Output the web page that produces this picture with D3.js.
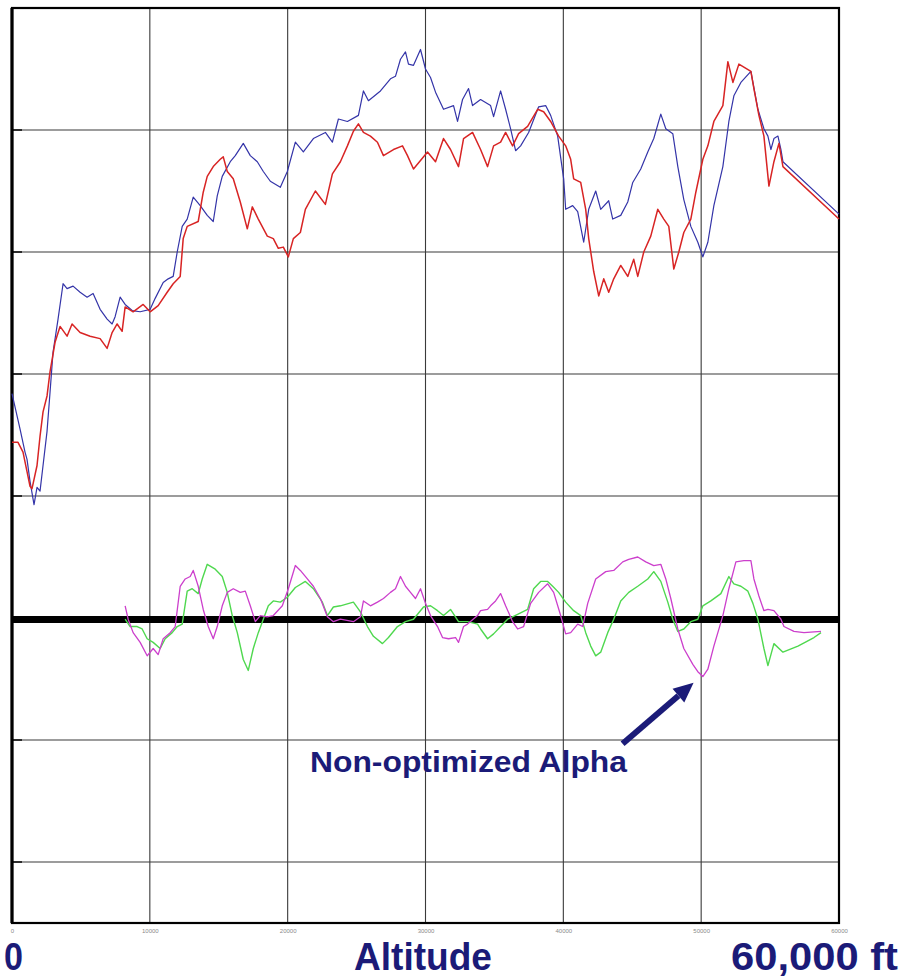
<!DOCTYPE html>
<html><head><meta charset="utf-8">
<script src="https://cdn.jsdelivr.net/npm/d3@7"></script>
<style>html,body{margin:0;padding:0;background:#fff;}svg{display:block;}</style>
</head><body><svg id="c" width="902" height="979"></svg>
<script>
// ---- data (altitude in ft, values in grid units) ----
const xTicks = [0, 10000, 20000, 30000, 40000, 50000, 60000];
const yGrid = [-2, -1, 1, 2, 3, 4];

const blueAlt = [0,581,944,1090,1308,1598,1816,2034,2252,2542,2760,2978,3341,3705,3995,4431,4940,5448,5884,6392,6901,7264,7482,7845,8208,8717,9298,10024,10388,10969,11332,11695,11986,12349,12712,13148,13656,14165,14601,14891,15254,15836,16199,16780,17288,17797,18233,18741,19468,19976,20557,21138,21865,22736,23245,23681,24334,25133,25497,25860,26732,27458,27821,28184,28548,28765,29129,29637,30000,30364,30727,31308,32034,32325,32688,33124,33414,33996,34722,34940,35448,35812,36175,36538,36901,37482,38209,38717,39080,39589,40025,40170,40678,41042,41477,41841,42349,42712,43293,43584,44165,44674,45037,45618,46126,46562,47071,47434,47942,48306,48741,49250,49758,50122,50485,50921,51574,52010,52373,52882,53608,53754,54117,54553,54843,55061,55279,55570,55788,55933,60000];
const blueVal = [1.84,1.55,1.36,1.30,1.12,0.93,1.07,1.04,1.25,1.53,1.85,2.18,2.45,2.74,2.70,2.72,2.67,2.63,2.66,2.53,2.45,2.41,2.47,2.63,2.57,2.52,2.51,2.53,2.62,2.75,2.78,2.80,3.00,3.21,3.27,3.45,3.38,3.30,3.25,3.46,3.62,3.74,3.79,3.89,3.79,3.74,3.66,3.58,3.53,3.66,3.90,3.82,3.93,3.98,3.90,4.09,4.07,4.12,4.32,4.24,4.32,4.42,4.44,4.58,4.64,4.54,4.53,4.66,4.50,4.43,4.31,4.17,4.20,4.07,4.25,4.34,4.20,4.25,4.20,4.11,4.32,4.17,4.01,3.83,3.87,3.98,4.19,4.20,4.12,3.95,3.60,3.35,3.38,3.33,3.08,3.35,3.50,3.35,3.42,3.27,3.30,3.41,3.57,3.68,3.82,3.93,4.13,4.01,3.97,3.70,3.43,3.21,3.08,2.96,3.08,3.38,3.70,4.07,4.28,4.39,4.48,4.39,4.17,4.01,3.95,3.84,3.93,3.95,3.84,3.74,3.31];

const redAlt = [0,436,799,1090,1308,1453,1816,2034,2252,2542,2760,3124,3487,3995,4358,4940,5666,6392,6901,7264,7627,7990,8208,8789,9516,10024,10605,11259,11695,12204,12421,12712,13511,13874,14165,14601,15109,15327,15618,16053,16562,17070,17434,17869,18523,18959,19322,19685,20048,20412,20920,21284,22010,22736,23245,23826,24334,24770,25133,25497,26005,26514,26949,27676,28330,28693,29129,29637,30146,30727,31308,31816,32397,32761,33414,33996,34504,34940,35448,35812,36320,36756,37410,38136,38572,39080,39661,40170,40533,40751,41260,41623,41841,42204,42567,42930,43293,43656,44165,44674,45109,45400,45836,46344,46853,47289,47652,48015,48378,48741,49250,49613,50122,50485,50921,51574,51938,52301,52737,53608,53826,54189,54553,54916,55279,55642,55933,60000];
const redVal = [1.44,1.44,1.36,1.20,1.08,1.06,1.25,1.49,1.69,1.82,2.02,2.26,2.39,2.31,2.41,2.34,2.31,2.29,2.21,2.34,2.41,2.35,2.55,2.51,2.57,2.51,2.56,2.67,2.74,2.80,3.11,3.21,3.25,3.49,3.62,3.70,3.76,3.78,3.66,3.60,3.41,3.19,3.37,3.27,3.13,3.11,3.03,3.04,2.96,3.11,3.16,3.35,3.50,3.39,3.64,3.74,3.87,3.99,4.05,3.98,3.95,3.90,3.79,3.84,3.87,3.79,3.68,3.75,3.82,3.74,3.93,3.84,3.70,3.93,3.98,3.84,3.70,3.87,3.90,3.98,3.87,3.97,4.03,4.17,4.15,4.07,3.95,3.87,3.76,3.60,3.57,3.35,3.11,2.84,2.64,2.78,2.67,2.78,2.89,2.80,2.94,2.80,3.00,3.13,3.35,3.27,3.21,2.86,3.00,3.16,3.27,3.49,3.76,3.87,4.07,4.20,4.56,4.39,4.54,4.48,4.34,4.12,3.95,3.54,3.74,3.89,3.70,3.27];

const magAlt = [8208,8426,8789,9298,9806,10242,10605,10969,11477,11840,12204,12567,12930,13148,13511,13874,14237,14601,14891,15254,15618,16053,16562,16925,17288,17652,18015,18523,18959,19613,20048,20557,20920,21429,21865,22373,22882,23317,23826,24770,25279,25497,26005,26514,26949,27458,27821,28184,28548,28911,29274,29637,30000,30364,30872,31235,31671,32180,32397,32761,33051,33778,33996,34504,34722,35085,35448,35812,36320,36683,37119,37628,38209,38862,39298,39807,40170,40533,41042,41405,41768,42349,43076,43656,44310,44746,45400,45981,46562,47071,47434,47797,48306,48741,49395,49758,50122,50485,50921,51574,52010,52519,53099,53608,53826,54189,54553,54843,55279,55788,56005,56731,57458,58693];
const magVal = [0.10,-0.01,-0.12,-0.20,-0.31,-0.25,-0.30,-0.17,-0.12,-0.07,0.26,0.32,0.34,0.39,0.26,0.07,-0.07,-0.17,-0.07,0.10,0.21,0.24,0.21,0.22,0.10,-0.03,0.02,0.01,0.02,0.10,0.24,0.43,0.39,0.32,0.26,0.16,0.01,-0.03,-0.01,-0.03,0.01,0.14,0.10,0.13,0.16,0.21,0.24,0.34,0.26,0.21,0.16,0.24,0.12,0.02,-0.07,-0.16,-0.17,-0.16,-0.20,-0.07,-0.05,0.02,0.06,0.07,0.10,0.14,0.20,0.10,-0.03,-0.09,-0.07,0.12,0.21,0.28,0.21,0.02,-0.13,-0.12,-0.05,-0.07,0.12,0.32,0.38,0.39,0.46,0.48,0.50,0.46,0.43,0.44,0.32,0.16,-0.09,-0.25,-0.38,-0.44,-0.48,-0.42,-0.23,0.02,0.24,0.46,0.47,0.47,0.32,0.18,0.06,0.07,0.06,-0.01,-0.07,-0.11,-0.12,-0.11];

const greenAlt = [8208,8571,9080,9443,9806,10242,10751,11114,11622,11986,12349,12712,13075,13511,13802,14165,14746,15254,15618,15981,16344,16780,17143,17506,17869,18233,18596,18959,19468,19976,20557,21284,21865,22518,22882,23317,23826,24770,25279,25787,26223,26877,27313,27966,28548,29129,29855,30364,30872,31308,31816,32397,33051,33778,33996,34504,34940,35448,35957,36683,37410,37846,38354,38862,39226,39661,40170,40751,41260,41623,41986,42349,42712,43221,43656,44165,44746,45400,46126,46562,47071,47579,47942,48306,48741,49250,49758,50122,50703,51429,52010,52373,52882,53390,53754,54117,54553,54843,55279,55933,57022,58185,58693];
const greenVal = [-0.01,-0.07,-0.07,-0.09,-0.17,-0.20,-0.25,-0.17,-0.12,-0.07,-0.05,0.22,0.24,0.20,0.32,0.44,0.40,0.34,0.21,0.02,-0.12,-0.34,-0.43,-0.25,-0.12,-0.01,0.10,0.14,0.13,0.17,0.25,0.30,0.24,0.13,0.02,0.09,0.10,0.13,0.05,-0.07,-0.15,-0.21,-0.16,-0.07,-0.03,-0.01,0.09,0.10,0.06,0.02,0.07,-0.03,-0.03,-0.05,-0.09,-0.17,-0.13,-0.07,-0.01,0.03,0.07,0.24,0.30,0.30,0.26,0.21,0.13,0.06,0.02,-0.12,-0.23,-0.31,-0.28,-0.12,-0.01,0.14,0.21,0.26,0.32,0.38,0.30,0.13,-0.01,-0.11,-0.09,-0.03,-0.01,0.10,0.14,0.20,0.34,0.28,0.26,0.22,0.12,-0.01,-0.25,-0.39,-0.21,-0.28,-0.23,-0.16,-0.12];

const labelLeft = "0", labelMid = "Altitude", labelRight = "60,000 ft";
const annotation = "Non-optimized Alpha";

// ---- drawing ----
const svg = d3.select("#c");
const x = d3.scaleLinear().domain([0, 60000]).range([12, 839]);
const y = d3.scaleLinear().domain([-2.5, 5]).range([923, 8]);
const navy = "#1b1b78";

// grid
svg.append("g").selectAll("line").data(xTicks.slice(1, -1)).join("line")
  .attr("x1", d => x(d)).attr("x2", d => x(d)).attr("y1", y(5)).attr("y2", y(-2.5))
  .attr("stroke", "#3a3a3a").attr("stroke-width", 1.1);
svg.append("g").selectAll("line").data(yGrid).join("line")
  .attr("x1", x(0)).attr("x2", x(60000)).attr("y1", d => y(d)).attr("y2", d => y(d))
  .attr("stroke", "#3a3a3a").attr("stroke-width", 1.1);
svg.append("g").selectAll("line").data(yGrid).join("line")
  .attr("x1", x(0)).attr("x2", x(0) + 10).attr("y1", d => y(d)).attr("y2", d => y(d))
  .attr("stroke", "#111").attr("stroke-width", 1.6);

// zero reference line
svg.append("line").attr("x1", x(0)).attr("x2", x(60000)).attr("y1", y(0) + 1.5).attr("y2", y(0) + 1.5)
  .attr("stroke", "#000").attr("stroke-width", 7);

// frame
svg.append("rect").attr("x", x(0)).attr("y", y(5)).attr("width", x(60000) - x(0)).attr("height", y(-2.5) - y(5))
  .attr("fill", "none").attr("stroke", "#000").attr("stroke-width", 2.2);
svg.append("line").attr("x1", x(0)).attr("x2", x(0)).attr("y1", y(5)).attr("y2", y(-2.5))
  .attr("stroke", "#000").attr("stroke-width", 3.2);

// series
function series(alt, val, color, w) {
  const pts = alt.map((a, i) => [a, val[i]]);
  svg.append("path").datum(pts)
    .attr("fill", "none").attr("stroke", color).attr("stroke-width", w).attr("stroke-linejoin", "round")
    .attr("d", d3.line().x(d => x(d[0])).y(d => y(d[1])));
}
series(greenAlt, greenVal, "#4fd84f", 1.4);
series(magAlt, magVal, "#cc3fcc", 1.3);
series(blueAlt, blueVal, "#3434a8", 1.2);
series(redAlt, redVal, "#d82424", 1.5);

// tiny tick labels
const ax = svg.append("g").attr("transform", `translate(0,${y(-2.5)})`)
  .call(d3.axisBottom(x).tickValues(xTicks).tickSize(0).tickPadding(6).tickFormat(d3.format("d")));
ax.select(".domain").remove();
ax.selectAll("text").attr("font-size", 6).attr("fill", "#8a8a8a").attr("font-family", "Liberation Sans, Arial, sans-serif");

// big axis labels
const big = svg.append("g").attr("font-family", "'Liberation Sans Narrow','Arial Narrow','Liberation Sans',Arial,sans-serif")
  .attr("font-weight", "bold").attr("font-size", 38).attr("fill", navy);
big.append("text").attr("x", 4).attr("y", 970).attr("textLength", 19).attr("lengthAdjust", "spacingAndGlyphs").text(labelLeft);
big.append("text").attr("x", 354).attr("y", 970).attr("textLength", 138).attr("lengthAdjust", "spacingAndGlyphs").text(labelMid);
big.append("text").attr("x", 731).attr("y", 970).attr("textLength", 167).attr("lengthAdjust", "spacingAndGlyphs").text(labelRight);

// annotation
svg.append("text").attr("x", 310).attr("y", 772)
  .attr("font-family", "'Liberation Sans',Arial,sans-serif").attr("font-weight", "bold").attr("font-size", 30)
  .attr("fill", navy).attr("textLength", 317).attr("lengthAdjust", "spacingAndGlyphs").text(annotation);

const tip = [x(49450), y(-0.53)], tail = [x(44300), y(-1.03)];
const ang = Math.atan2(tip[1] - tail[1], tip[0] - tail[0]);
const hl = 20, hw = 9;
const base = [tip[0] - hl * Math.cos(ang), tip[1] - hl * Math.sin(ang)];
svg.append("line").attr("x1", tail[0]).attr("y1", tail[1]).attr("x2", base[0]).attr("y2", base[1])
  .attr("stroke", navy).attr("stroke-width", 6);
svg.append("polygon").attr("fill", navy).attr("points", [
  tip,
  [base[0] + hw * Math.sin(ang), base[1] - hw * Math.cos(ang)],
  [base[0] - hw * Math.sin(ang), base[1] + hw * Math.cos(ang)]
].map(p => p.join(",")).join(" "));
</script></body></html>
